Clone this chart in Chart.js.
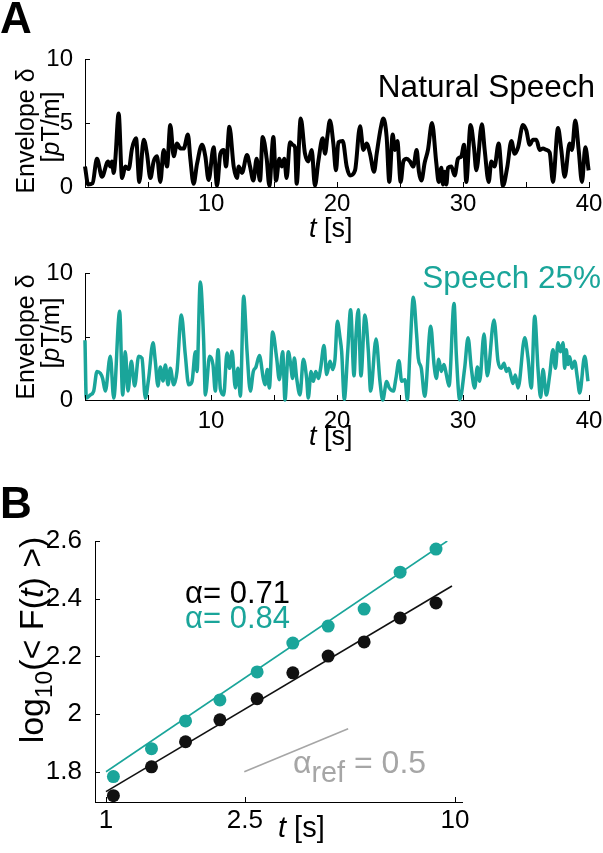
<!DOCTYPE html>
<html>
<head>
<meta charset="utf-8">
<script src="https://cdn.jsdelivr.net/npm/chart.js@4.4.0/dist/chart.umd.min.js"></script>
<style>
  body { margin: 0; width: 603px; height: 853px; position: relative; background: #fff; overflow: hidden;
         font-family: "Liberation Sans", Arial, sans-serif; color: #000; }
  canvas { position: absolute; left: 0; }
  .t { position: absolute; line-height: 1.15; white-space: nowrap; }
  .rot { position: absolute; line-height: 1; white-space: nowrap; transform: translate(-50%, -50%) rotate(-90deg); }
  sub { font-size: 0.72em; vertical-align: -0.35em; line-height: 0; }
</style>
</head>
<body>
<canvas id="envNatural" width="603" height="190" style="top:40px"></canvas>
<canvas id="envSpeech" width="603" height="190" style="top:250px"></canvas>
<canvas id="dfa" width="603" height="353" style="top:500px"></canvas>

<div class="t" style="left:0;top:-7px;font-size:44px;font-weight:bold">A</div>
<div class="t" style="right:8px;top:68px;font-size:31.5px">Natural Speech</div>
<div class="rot" style="left:25px;top:131px;font-size:25px">Envelope δ</div>
<div class="rot" style="left:50px;top:127px;font-size:25px">[<i>p</i>T/m]</div>
<div class="t" style="left:309px;top:213px;font-size:27px"><i>t</i> [s]</div>

<div class="t" style="right:2px;top:259px;font-size:31.5px;color:#1aa59a">Speech 25%</div>
<div class="rot" style="left:25px;top:337px;font-size:25px">Envelope δ</div>
<div class="rot" style="left:50px;top:333px;font-size:25px">[<i>p</i>T/m]</div>
<div class="t" style="left:309px;top:421px;font-size:27px"><i>t</i> [s]</div>

<div class="t" style="left:0;top:478px;font-size:44px;font-weight:bold">B</div>
<div class="rot" style="left:31px;top:640px;font-size:34px">log<sub>10</sub>(&lt; F(<i>t</i>) &gt;)</div>
<div class="t" style="left:185px;top:575px;font-size:31px">α= 0.71</div>
<div class="t" style="left:185px;top:600px;font-size:31px;color:#1aa59a">α= 0.84</div>
<div class="t" style="left:293px;top:744px;font-size:32px;color:#a6a6a6">α<sub style="font-size:0.9em;vertical-align:-0.3em">ref</sub>&nbsp;= 0.5</div>
<div class="t" style="left:278px;top:811px;font-size:29px"><i>t</i> [s]</div>

<script>
// envelope traces, [t (s), envelope (pT/m)]
const natural = [
  [0,1.6],[0.25,0.2],[0.6,0.3],[0.95,2.2],[1.35,0.8],[1.83,2.0],[2.01,1.6],[2.14,2.0],[2.28,1.1],[2.41,2.2],
  [2.67,5.75],[2.94,0.7],[3.2,1.6],[3.47,1.4],[3.73,3.0],[4.05,3.8],[4.31,0.4],[4.66,3.7],[4.92,2.6],[5.19,0.7],
  [5.45,2.0],[5.71,2.4],[5.98,0.4],[6.24,2.9],[6.51,1.6],[6.77,4.85],[7.04,2.4],[7.3,3.4],[7.57,3.0],[7.83,3.0],
  [8.17,4.1],[8.36,2.2],[8.62,0.25],[8.89,1.8],[9.29,3.3],[9.55,2.4],[9.81,0.55],[10.21,3.1],[10.48,0.1],[10.74,2.6],
  [11.01,2.9],[11.19,1.6],[11.46,4.7],[11.8,1.6],[12.06,0.7],[12.2,1.6],[12.46,1.1],[12.86,2.5],[13.1,1.6],[13.36,0.5],
  [13.62,2.2],[13.89,0.5],[14.1,3.9],[14.42,2.2],[14.63,0.1],[14.95,3.9],[15.16,0.5],[15.42,2.2],[15.61,1.6],[15.82,2.2],
  [16.0,0.7],[16.27,3.5],[16.48,3.3],[16.67,3.1],[16.8,0.25],[17.12,5.35],[17.46,2.6],[17.72,2.0],[17.99,2.9],[18.25,0.1],
  [18.52,2.0],[18.86,3.8],[19.05,2.6],[19.23,3.9],[19.44,5.2],[19.71,3.4],[19.92,1.3],[20.11,3.5],[20.45,3.6],[20.77,1.6],
  [21.03,0.9],[21.43,1.3],[21.83,4.75],[22.09,2.9],[22.35,3.4],[22.62,2.6],[22.94,1.2],[23.15,2.6],[23.47,4.6],[23.68,5.35],
  [23.94,3.9],[24.15,0.4],[24.42,4.1],[24.6,2.9],[24.79,3.6],[25.05,0.4],[25.27,2.0],[25.53,2.2],[25.79,2.0],[26.06,1.6],
  [26.32,2.9],[26.5,1.2],[26.7,0.5],[26.96,1.9],[27.22,2.9],[27.54,5.0],[27.88,1.9],[28.07,0.4],[28.28,1.5],[28.41,0.2],
  [28.54,1.2],[28.68,0.2],[28.81,1.5],[29.07,1.6],[29.34,0.9],[29.6,2.2],[29.87,2.4],[30.08,3.3],[30.26,0.4],[30.6,4.85],
  [30.87,3.1],[31.06,1.3],[31.5,4.9],[31.72,2.9],[32.04,0.4],[32.25,2.0],[32.5,1.6],[32.83,3.4],[33.17,0.1],[33.52,1.6],
  [33.84,3.6],[34.1,2.6],[34.37,3.1],[34.76,4.85],[35.03,4.4],[35.29,3.3],[35.56,3.7],[35.82,3.7],[36.08,2.9],[36.35,3.0],
  [36.61,2.9],[36.88,2.7],[37.14,0.4],[37.54,4.6],[37.8,2.9],[38.07,0.8],[38.46,3.4],[38.65,2.9],[38.91,5.2],[39.18,2.9],
  [39.44,0.4],[39.71,3.1],[39.97,1.3]
];
const speech25 = [
  [0,4.7],[0.1,0.15],[0.42,0.4],[0.69,0.7],[0.95,2.25],[1.22,2.1],[1.4,1.7],[1.61,0.7],[2.01,3.45],[2.28,0.15],
  [2.75,6.98],[2.99,0.4],[3.2,3.8],[3.41,0.7],[3.68,3.05],[3.94,1.1],[4.26,3.45],[4.52,3.3],[4.79,0.15],[5.05,1.7],
  [5.4,4.5],[5.58,3.05],[5.79,1.1],[5.98,2.6],[6.19,1.5],[6.38,2.75],[6.59,1.2],[6.77,2.5],[7.04,1.2],[7.3,2.25],
  [7.65,6.7],[7.96,3.55],[8.23,1.2],[8.49,1.45],[8.76,3.8],[8.89,2.25],[9.15,9.3],[9.42,4.6],[9.55,0.4],[9.89,3.45],
  [10.16,2.75],[10.34,0.7],[10.56,3.95],[10.74,0.9],[11.01,0.4],[11.27,3.7],[11.48,2.5],[11.67,3.83],[11.93,0.95],[12.14,2.5],
  [12.33,0.3],[12.59,8.16],[12.86,3.83],[13.12,0.7],[13.36,2.25],[13.57,2.6],[13.84,3.5],[14.15,1.7],[14.29,1.2],[14.47,2.4],
  [14.63,0.95],[14.89,5.35],[15.21,3.3],[15.42,1.6],[15.69,3.8],[15.87,0.0],[16.14,3.8],[16.32,2.8],[16.48,1.7],[16.61,3.3],
  [16.8,1.7],[17.06,0.4],[17.33,3.2],[17.59,1.7],[17.72,0.15],[17.94,2.25],[18.12,1.47],[18.31,2.25],[18.52,1.7],[18.7,2.5],
  [18.97,4.3],[19.18,2.0],[19.44,3.05],[19.66,2.4],[19.84,3.2],[20.03,6.2],[20.24,4.9],[20.37,3.8],[20.58,0.05],[20.85,3.8],
  [21.08,7.1],[21.35,1.9],[21.51,5.15],[21.69,7.1],[21.9,1.9],[22.22,6.7],[22.49,3.8],[22.67,0.7],[23.1,4.8],[23.41,1.47],
  [23.63,0.0],[23.94,1.45],[24.15,0.95],[24.47,0.7],[24.68,1.73],[24.92,3.1],[25.13,1.47],[25.4,1.6],[25.58,0.02],[25.79,3.8],
  [26.06,8.1],[26.32,5.14],[26.45,3.3],[26.69,2.5],[26.96,0.3],[27.44,5.8],[27.7,2.8],[27.89,1.7],[28.07,3.2],[28.28,2.25],
  [28.49,2.8],[28.68,2.0],[28.89,1.1],[29.29,7.6],[29.47,3.57],[29.74,0.02],[30.13,2.5],[30.4,4.9],[30.66,2.5],[30.93,0.95],
  [31.14,2.6],[31.32,1.47],[31.67,5.2],[31.93,1.9],[32.46,6.3],[32.78,3.05],[33.04,2.5],[33.26,2.9],[33.44,2.25],[33.63,2.5],
  [33.84,1.73],[33.97,1.3],[34.15,1.97],[34.37,0.95],[34.9,4.9],[35.16,3.3],[35.42,0.95],[35.69,6.6],[35.95,2.5],[36.16,0.2],
  [36.35,2.4],[36.61,0.4],[36.88,1.97],[37.14,3.95],[37.33,2.5],[37.54,4.5],[37.75,3.8],[37.94,4.5],[38.07,2.5],[38.2,3.95],
  [38.33,2.8],[38.47,3.4],[38.65,2.5],[38.86,3.05],[39.08,1.73],[39.26,0.55],[39.66,3.45],[39.92,1.47]
];
const timeTicks = [0, 5, 10, 15, 20, 25, 30, 35, 40];
const timeLabels = [10, 20, 30, 40];
const envTicks = [0, 5, 10];

// fluctuation analysis (panel B)
const scaleT = [1.05, 1.35, 1.69, 2.12, 2.71, 3.43, 4.33, 5.49, 6.96, 8.82];
const flucNatural = [1.717, 1.817, 1.904, 1.980, 2.053, 2.143, 2.201, 2.250, 2.333, 2.385];
const fluc25 = [1.783, 1.880, 1.976, 2.049, 2.146, 2.246, 2.305, 2.364, 2.492, 2.572];
const fitNatural = [[1, 1.731], [9.8, 2.444]];
const fit25 = [[1, 1.80], [9.5, 2.60]];
const refLine = [[2.49, 1.80], [4.94, 1.949]];
const logTicks = [1.8, 2, 2.2, 2.4, 2.6];
const scaleTicks = [1, 2.5, 10];

const TEAL = "#1aa59a";
const GRAY = "#a6a6a6";

Chart.defaults.font.family = '"Liberation Sans", Arial, sans-serif';
Chart.defaults.color = "#000";

// MATLAB style ticks pointing into the axes
const inTicks = {
  id: "inTicks",
  afterDraw(chart, args, opts) {
    const { ctx, chartArea, scales } = chart;
    const len = opts.len || 5;
    ctx.save();
    ctx.strokeStyle = "#000";
    ctx.lineWidth = 1;
    ctx.beginPath();
    scales.x.ticks.forEach(t => {
      const px = Math.round(scales.x.getPixelForValue(t.value)) + 0.5;
      ctx.moveTo(px, chartArea.bottom);
      ctx.lineTo(px, chartArea.bottom - len);
    });
    scales.y.ticks.forEach(t => {
      const py = Math.round(scales.y.getPixelForValue(t.value)) + 0.5;
      ctx.moveTo(chartArea.left, py);
      ctx.lineTo(chartArea.left + len, py);
    });
    ctx.stroke();
    ctx.restore();
  }
};

const toXY = pts => pts.map(p => ({ x: p[0], y: p[1] }));

function envelopeChart(id, pts, color, width, padTop, axisH, labelPad) {
  return new Chart(document.getElementById(id), {
    type: "scatter",
    data: {
      datasets: [{
        data: toXY(pts),
        showLine: true,
        pointRadius: 0,
        borderColor: color,
        borderWidth: width,
        cubicInterpolationMode: "monotone",
        borderJoinStyle: "round",
        clip: false
      }]
    },
    options: {
      responsive: false,
      animation: false,
      devicePixelRatio: 1,
      layout: { autoPadding: false, padding: { top: padTop, right: 14, bottom: 0, left: 0 } },
      plugins: { legend: { display: false }, tooltip: { enabled: false }, inTicks: { len: 5 } },
      scales: {
        x: {
          type: "linear", min: 0, max: 40,
          afterBuildTicks: s => { s.ticks = timeTicks.map(v => ({ value: v })); },
          ticks: { autoSkip: false, maxRotation: 0, padding: labelPad, font: { size: 24 },
                   callback: v => timeLabels.includes(v) ? String(v) : "" },
          grid: { display: false },
          border: { display: true, color: "#000", width: 1 },
          afterFit: s => { s.height = axisH; }
        },
        y: {
          min: 0, max: 10,
          afterBuildTicks: s => { s.ticks = envTicks.map(v => ({ value: v })); },
          ticks: { padding: 4, font: { size: 24 } },
          grid: { display: false },
          border: { display: true, color: "#000", width: 1 },
          afterFit: s => { s.width = 85; }
        }
      }
    },
    plugins: [inTicks]
  });
}

envelopeChart("envNatural", natural, "#000", 4, 19, 43, -5);
envelopeChart("envSpeech", speech25, TEAL, 3.5, 23, 40, -1);

new Chart(document.getElementById("dfa"), {
  type: "scatter",
  data: {
    datasets: [
      { data: scaleT.map((t, i) => ({ x: t, y: fluc25[i] })), pointRadius: 6.5, backgroundColor: TEAL, borderWidth: 0 },
      { data: scaleT.map((t, i) => ({ x: t, y: flucNatural[i] })), pointRadius: 6.5, backgroundColor: "#111", borderWidth: 0 },
      { data: toXY(fit25), showLine: true, pointRadius: 0, borderColor: TEAL, borderWidth: 1.6 },
      { data: toXY(fitNatural), showLine: true, pointRadius: 0, borderColor: "#111", borderWidth: 1.6 },
      { data: toXY(refLine), showLine: true, pointRadius: 0, borderColor: GRAY, borderWidth: 1.6 }
    ]
  },
  options: {
    responsive: false,
    animation: false,
    devicePixelRatio: 1,
    layout: { autoPadding: false, padding: { top: 41, right: 141, bottom: 0, left: 0 } },
    plugins: { legend: { display: false }, tooltip: { enabled: false }, inTicks: { len: 5 } },
    scales: {
      x: {
        type: "logarithmic", min: 0.93, max: 10.47,
        afterBuildTicks: s => { s.ticks = scaleTicks.map(v => ({ value: v })); },
        ticks: { autoSkip: false, maxRotation: 0, padding: -5, font: { size: 26 }, callback: v => String(v) },
        grid: { display: false },
        border: { display: true, color: "#000", width: 1 },
        afterFit: s => { s.height = 51; }
      },
      y: {
        min: 1.695, max: 2.6,
        afterBuildTicks: s => { s.ticks = logTicks.map(v => ({ value: v })); },
        ticks: { padding: 5, font: { size: 26 }, callback: v => String(Number(v.toFixed(1))) },
        grid: { display: false },
        border: { display: true, color: "#000", width: 1 },
        afterFit: s => { s.width = 95; }
      }
    }
  },
  plugins: [inTicks]
});
</script>
</body>
</html>
